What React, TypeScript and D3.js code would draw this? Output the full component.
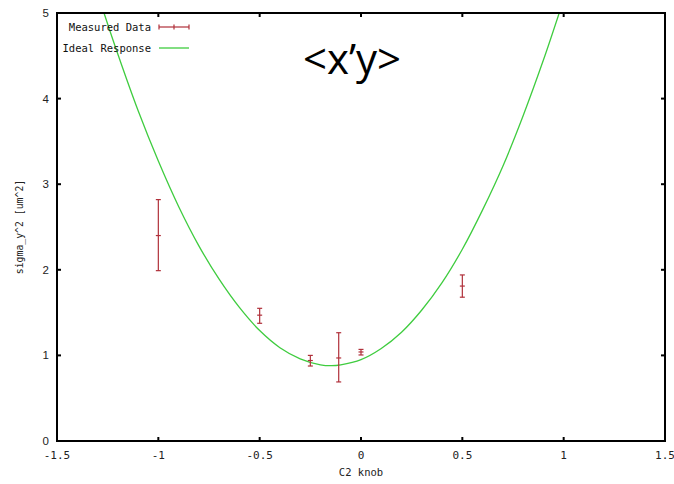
import React from "react";
import * as d3 from "d3";

const xTicks = [-1.5, -1, -0.5, 0, 0.5, 1, 1.5];
const xTickLabels = ["-1.5", "-1", "-0.5", "0", "0.5", "1", "1.5"];
const yTicks = [0, 1, 2, 3, 4, 5];
const yTickLabels = ["0", "1", "2", "3", "4", "5"];

// Measured data (C2 knob, sigma_y^2, low, high)
const measX = [-1.0, -0.5, -0.25, -0.11, 0.0, 0.5];
const measY = [2.4, 1.47, 0.94, 0.97, 1.04, 1.81];
const measLo = [1.99, 1.375, 0.876, 0.69, 1.005, 1.68];
const measHi = [2.82, 1.55, 1.0, 1.265, 1.07, 1.94];

// Ideal response curve
const idealX = [-1.268, -1.2, -1.1, -1.0, -0.9, -0.8, -0.7, -0.6, -0.5, -0.4, -0.3, -0.2, -0.145, -0.1, 0, 0.1, 0.2, 0.3, 0.4, 0.5, 0.6, 0.7, 0.8, 0.9, 0.978];
const idealY = [5.0, 4.52, 3.86, 3.27, 2.74, 2.28, 1.89, 1.56, 1.29, 1.09, 0.96, 0.89, 0.88, 0.89, 0.95, 1.08, 1.27, 1.53, 1.85, 2.24, 2.7, 3.21, 3.8, 4.45, 5.0];

const W = 674, H = 484;
const L = 57, R = 665, T = 13, B = 441;
const RED = "#b0303a";
const GREEN = "#3fcc3f";
const GP_FONT = "'DejaVu Sans Mono', monospace";

export default function App() {
  const x = d3.scaleLinear().domain([-1.5, 1.5]).range([L, R]);
  const y = d3.scaleLinear().domain([0, 5]).range([B, T]);
  const line = d3
    .line<number>()
    .x((_, i) => x(idealX[i]))
    .y((_, i) => y(idealY[i]))
    .curve(d3.curveCatmullRom.alpha(0.5));
  const tick = 4;
  const cap = 2.5;
  return (
    <svg width={W} height={H} style={{ position: "absolute", left: 0, top: 0, background: "#fff" }}>
      <rect x={0} y={0} width={W} height={H} fill="#fff" />
      <defs>
        <clipPath id="plot">
          <rect x={L} y={T} width={R - L} height={B - T} />
        </clipPath>
      </defs>
      {xTicks.map((t, i) => (
        <g key={"xt" + i}>
          <line x1={x(t)} x2={x(t)} y1={B} y2={B - tick} stroke="#000" strokeWidth={2} />
          <line x1={x(t)} x2={x(t)} y1={T} y2={T + tick} stroke="#000" strokeWidth={2} />
          <text x={x(t)} y={459} textAnchor="middle" fontFamily={GP_FONT} fontSize={11} fill="#222">
            {xTickLabels[i]}
          </text>
        </g>
      ))}
      {yTicks.map((t, i) => (
        <g key={"yt" + i}>
          <line x1={L} x2={L + tick} y1={y(t)} y2={y(t)} stroke="#000" strokeWidth={2} />
          <line x1={R} x2={R - tick} y1={y(t)} y2={y(t)} stroke="#000" strokeWidth={2} />
          <text x={49} y={y(t) + 4} textAnchor="end" fontFamily="'Liberation Sans', Arial, sans-serif" fontSize={11.5} fill="#222">
            {yTickLabels[i]}
          </text>
        </g>
      ))}
      <text x={361} y={476} textAnchor="middle" fontFamily={GP_FONT} fontSize={10.5} fill="#222">
        C2 knob
      </text>
      <text
        transform={`translate(23,${(T + B) / 2}) rotate(-90)`}
        textAnchor="middle"
        fontFamily={GP_FONT}
        fontSize={9.8}
        fill="#222"
      >
        sigma_y^2 [um^2]
      </text>
      <g clipPath="url(#plot)">
        <path d={line(idealX) || ""} fill="none" stroke={GREEN} strokeWidth={1.3} />
      </g>
      {measX.map((mx, i) => (
        <g key={"m" + i} stroke={RED} strokeWidth={1.2}>
          <line x1={x(mx)} x2={x(mx)} y1={y(measLo[i])} y2={y(measHi[i])} />
          <line x1={x(mx) - cap} x2={x(mx) + cap} y1={y(measLo[i])} y2={y(measLo[i])} />
          <line x1={x(mx) - cap} x2={x(mx) + cap} y1={y(measHi[i])} y2={y(measHi[i])} />
          <line x1={x(mx) - cap} x2={x(mx) + cap} y1={y(measY[i])} y2={y(measY[i])} />
        </g>
      ))}
      <rect x={L} y={T} width={R - L} height={B - T} fill="none" stroke="#000" strokeWidth={2} />
      <text x={151} y={31} textAnchor="end" fontFamily={GP_FONT} fontSize={10.5} fill="#111">
        Measured Data
      </text>
      <g stroke={RED} strokeWidth={1.2}>
        <line x1={159} x2={189} y1={27} y2={27} />
        <line x1={159} x2={159} y1={24.5} y2={29.5} />
        <line x1={174} x2={174} y1={24.5} y2={29.5} />
        <line x1={189} x2={189} y1={24.5} y2={29.5} />
      </g>
      <text x={151} y={52} textAnchor="end" fontFamily={GP_FONT} fontSize={10.5} fill="#111">
        Ideal Response
      </text>
      <line x1={159} x2={189} y1={48} y2={48} stroke={GREEN} strokeWidth={1.3} />
      <text x={352} y={74} textAnchor="middle" fontFamily="'Open Sans', sans-serif" fontSize={42} fill="#000">
        {"<x\u2019y>"}
      </text>
    </svg>
  );
}
